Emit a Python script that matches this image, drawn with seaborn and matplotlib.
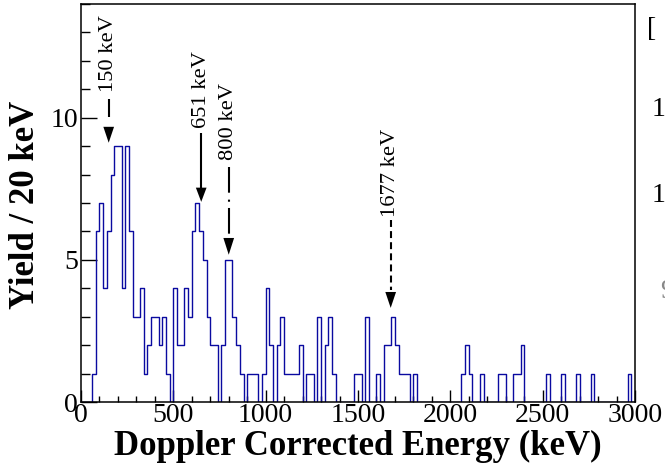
import numpy as np
import pandas as pd
import matplotlib
matplotlib.use("Agg")
import matplotlib.pyplot as plt
import seaborn as sns

# Gamma-ray spectrum, 20 keV bins from 0 to 3000 keV
bin_width = 20
e_min, e_max = 0, 3000
counts = [
    0, 0, 0, 1, 6, 7, 4, 6, 8, 9,
    9, 4, 9, 6, 3, 3, 4, 1, 2, 3,
    3, 2, 3, 1, 0, 4, 2, 2, 4, 3,
    6, 7, 6, 5, 3, 2, 2, 0, 2, 5,
    5, 3, 2, 1, 0, 1, 1, 1, 0, 1,
    4, 2, 0, 2, 3, 1, 1, 1, 1, 2,
    0, 1, 1, 0, 3, 0, 2, 3, 1, 0,
    0, 0, 0, 0, 1, 1, 0, 3, 0, 0,
    1, 0, 2, 2, 3, 2, 1, 1, 1, 0,
    1, 0, 0, 0, 0, 0, 0, 0, 0, 0,
    0, 0, 0, 1, 2, 1, 0, 0, 1, 0,
    0, 0, 0, 1, 1, 0, 0, 1, 1, 2,
    0, 0, 0, 0, 0, 0, 1, 0, 0, 0,
    1, 0, 0, 0, 1, 0, 0, 0, 1, 0,
    0, 0, 0, 0, 0, 0, 0, 0, 1, 0,
]
bin_centers = [e_min + bin_width * (i + 0.5) for i in range(len(counts))]

# Identified transitions
peak_energies = [150, 651, 800, 1677]
peak_labels = ["150 keV", "651 keV", "800 keV", "1677 keV"]

x_ticks = [0, 500, 1000, 1500, 2000, 2500, 3000]
y_ticks = [0, 5, 10]

sns.set_style("ticks")
plt.rcParams["font.family"] = ["Liberation Serif", "DejaVu Serif"]
plt.rcParams["lines.scale_dashes"] = False
plt.rcParams["text.color"] = "black"
plt.rcParams["axes.labelcolor"] = "black"
plt.rcParams["xtick.color"] = "black"
plt.rcParams["ytick.color"] = "black"

W, H = 665, 468
fig = plt.figure(figsize=(W / 100, H / 100), dpi=100)
ax = fig.add_axes([81 / W, (H - 402) / H, 554 / W, 398 / H])

spectrum = pd.DataFrame({"energy": bin_centers, "counts": counts})
sns.histplot(data=spectrum, x="energy", weights="counts",
             binwidth=bin_width, binrange=(e_min, e_max),
             element="step", fill=False, color="#0a0aa0", linewidth=1.0,
             ax=ax)

ax.set_xlim(e_min, e_max)
ax.set_ylim(0, 14)
ax.set_xticks(x_ticks)
ax.set_xticklabels([str(t) for t in x_ticks])
ax.set_xticks(np.arange(0, 3001, 100), minor=True)
ax.set_yticks(y_ticks)
ax.set_yticklabels([str(t) for t in y_ticks])
ax.set_yticks(np.arange(0, 15, 1), minor=True)

ax.tick_params(axis="x", which="major", direction="in", length=8.5, width=1.0,
               labelsize=20, pad=1, top=False, colors="black")
ax.tick_params(axis="x", which="minor", direction="in", length=4.5, width=1.0,
               top=False, colors="black")
ax.tick_params(axis="y", which="major", direction="in", length=11.5, width=1.0,
               labelsize=20, pad=2, right=False, colors="black")
ax.tick_params(axis="y", which="minor", direction="in", length=6.5, width=1.0,
               right=False, colors="black")
for s in ax.spines.values():
    s.set_visible(True)
    s.set_linewidth(1.1)
    s.set_color("black")

ax.set_xlabel("Doppler Corrected Energy (keV)", fontsize=25, fontweight="bold",
              color="black")
ax.xaxis.label.set(va="center")
ax.xaxis.set_label_coords(0.5, -0.111)
ax.set_ylabel("Yield / 20 keV", fontsize=25, fontweight="bold", color="black")
ax.yaxis.label.set(va="center", ha="center", rotation_mode="default")
ax.yaxis.set_label_coords(-0.101, 0.495)

# Arrow annotations: text bottom, line top/bottom, head top, tip (y in counts)
text_bottom = [10.92, 9.65, 8.52, 6.51]
line_top = [10.67, 9.47, 8.27, 6.41]
line_bottom = [10.04, 7.54, 5.77, 3.94]
head_top = [9.68, 7.54, 5.77, 3.87]
tip = [9.12, 7.04, 5.18, 3.31]
line_styles = ["-", "-", (0, (18.5, 5, 1.5, 4.5)), (0, (5, 3))]
head_half = 29

for e, lab, tb, lt, lb, ht, tp, ls in zip(peak_energies, peak_labels,
                                            text_bottom, line_top, line_bottom,
                                            head_top, tip, line_styles):
    ax.text(e, tb, lab, rotation=90, ha="center", va="bottom", fontsize=16.2,
            color="black")
    ax.plot([e, e], [lt, lb], color="black", linewidth=1.5, linestyle=ls,
            solid_capstyle="butt", dash_capstyle="butt")
    ax.fill([e - head_half, e + head_half, e], [ht, ht, tp], color="black",
            linewidth=0)

# Edge of the neighbouring panel
fig.text(647 / W, 1 - 30 / H, "[", fontsize=20, va="center", ha="left")
fig.text(652 / W, 1 - 110 / H, "1", fontsize=20, va="center", ha="left")
fig.text(652 / W, 1 - 195 / H, "1", fontsize=20, va="center", ha="left")
fig.text(660 / W, 1 - 292 / H, "9", fontsize=20, va="center", ha="left",
         color="#888888")

fig.savefig("out.png", dpi=100)
